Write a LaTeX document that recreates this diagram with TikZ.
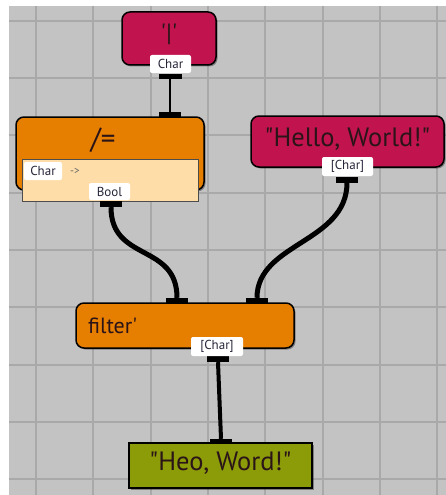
\documentclass[tikz,border=0pt]{standalone}
\usepackage{fontspec}
\setmainfont{PT Sans}
\usetikzlibrary{shadows}
\definecolor{bg}{HTML}{C3C3C3}
\definecolor{gridc}{HTML}{A9A9A9}
\definecolor{crim}{HTML}{C1144F}
\definecolor{orng}{HTML}{E67E00}
\definecolor{peach}{HTML}{FFDDA9}
\definecolor{olive}{HTML}{8C9C08}
\definecolor{txt}{HTML}{2A1418}
\definecolor{tagtxt}{HTML}{26263A}
\begin{document}
\begin{tikzpicture}[x=1pt,y=-1pt,
  nodebox/.style={draw=black,line width=1.5pt,rounded corners=8pt,inner sep=0pt,text=txt,
    drop shadow={shadow xshift=1.5pt,shadow yshift=-1.5pt,opacity=0.35,fill=black}},
  port/.style={fill=black,minimum width=22pt,minimum height=5pt,inner sep=0pt},
  tag/.style={fill=white,rounded corners=2pt,inner sep=0pt,minimum height=18pt,
    font=\fontsize{13}{13}\selectfont,text=tagtxt},
  wire/.style={line width=5pt,black}]
\useasboundingbox (0,0) rectangle (446,495);
\fill[white] (0,0) rectangle (446,495);
\fill[bg] (9,6) rectangle (446,495);
\foreach \i in {0,...,7}
  \draw[gridc,line width=2pt] ({36+57.3*\i},6) -- ({36+57.3*\i},495);
\foreach \j in {0,...,8}
  \draw[gridc,line width=2pt] (9,{20.7+57.3*\j}) -- (446,{20.7+57.3*\j});

% nodes
\node[nodebox,fill=crim,minimum width=94pt,minimum height=53pt] (bar) at (169,38.5) {};
\node[text=txt,font=\fontsize{25}{25}\selectfont] (bartxt) at (169,34) {\textquotesingle|\textquotesingle};

\node[nodebox,fill=orng,minimum width=188pt,minimum height=73pt] (neq) at (110,153.5) {};
\node[text=txt,font=\fontsize{29}{29}\selectfont] (neqtxt) at (103,140) {/=};
\node[draw=black!70,line width=0.8pt,fill=peach,minimum width=176pt,minimum height=42pt,inner sep=0pt] (sig) at (110,180) {};

\node[nodebox,fill=crim,minimum width=193pt,minimum height=51pt] (hello) at (347.5,141.5) {};
\node[text=txt,font=\fontsize{26.5}{27}\selectfont] (hellotxt) at (347.5,139) {\textquotedbl Hello, World!\textquotedbl};

\node[nodebox,fill=orng,minimum width=218pt,minimum height=45pt] (filt) at (185,325.5) {};
\node[text=txt,font=\fontsize{22}{22}\selectfont,anchor=west,inner sep=0pt] (filttxt) at (88,326) {filter\textquotesingle};

\node[nodebox,fill=olive,rounded corners=0pt,minimum width=183pt,minimum height=45pt] (heo) at (220.5,465.5) {};
\node[text=txt,font=\fontsize{26.5}{27}\selectfont] (heotxt) at (220.5,463) {\textquotedbl Heo, Word!\textquotedbl};

% ports
\node[port,minimum width=23pt] (barout) at (170,76.5) {};
\node[port] (neqin) at (170,114.5) {};
\node[port,minimum height=6pt] (neqout) at (111,204) {};
\node[port,minimum height=6pt] (helloout) at (347,179.5) {};
\node[port] (filtin1) at (177,300.5) {};
\node[port] (filtin2) at (257,300.5) {};
\node[port,minimum height=6pt] (filtout) at (218,359) {};
\node[port,minimum height=4pt] (heoin) at (221,441) {};

% type tags
\node[tag,minimum width=41pt] (t1) at (170.5,64) {Char};
\node[tag,minimum width=38pt] (t2) at (43,171) {Char};
\node[text=black!60,font=\fontsize{11}{11}\selectfont] (arr) at (75,171) {->};
\node[tag,minimum width=41pt,minimum height=17pt] (t3) at (109.5,191.5) {Bool};
\node[tag,minimum width=51pt,minimum height=19pt] (t4) at (347.5,166.5) {[Char]};
\node[tag,minimum width=52pt,minimum height=19pt] (t5) at (217,346.5) {[Char]};

% wires
\draw[line width=2.5pt] (barout.south) -- (neqin.north);
\draw[wire] (neqout.south) .. controls +(0,55) and +(0,-55) .. (filtin1.north);
\draw[wire] (helloout.south) .. controls +(0,60) and +(0,-55) .. (filtin2.north);
\draw[line width=4pt] (filtout.south) -- (heoin.north);
\end{tikzpicture}
\end{document}
